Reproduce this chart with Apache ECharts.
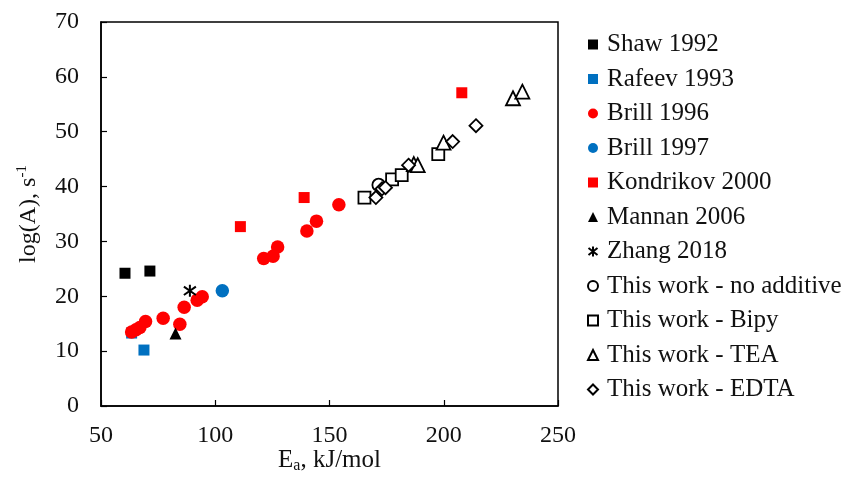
<!DOCTYPE html>
<html><head><meta charset="utf-8">
<script src="https://cdn.jsdelivr.net/npm/echarts@6/dist/echarts.min.js"></script>
<style>html,body{margin:0;padding:0;background:#fff}#c{width:854px;height:480px}</style>
</head><body><div id="c"></div>
<script>
// Data: [Ea (kJ/mol), log(A)]
const shaw1992 = [[60.5, 24.2], [71.4, 24.6]];
const rafeev1993 = [[63.4, 13.3], [68.8, 10.2]];
const brill1996 = [[63.4, 13.5], [65.3, 13.9], [67.0, 14.3], [69.5, 15.4], [77.2, 16.0], [84.5, 14.9], [86.4, 18.0], [92.1, 19.3], [94.3, 19.9], [121.2, 26.9], [125.3, 27.3], [127.3, 29.0], [140.1, 31.9], [144.3, 33.7], [154.1, 36.7]];
const brill1997 = [[103.1, 21.0]];
const kondrikov2000 = [[111.0, 32.7], [138.9, 38.0], [207.9, 57.1]];
const mannan2006 = [[82.6, 13.2]];
const zhang2018 = [[88.9, 21.0]];
const noAdditive = [[171.5, 40.3]];
const bipy = [[165.3, 38.0], [177.4, 41.3], [181.6, 42.1], [197.6, 45.9]];
const tea = [[186.9, 44.1], [188.6, 43.9], [199.9, 48.0], [230.3, 56.1], [234.4, 57.3]];
const edta = [[170.3, 38.0], [173.0, 39.6], [174.5, 39.8], [184.6, 43.9], [203.9, 48.2], [214.1, 51.1]];
const xTicks = [50, 100, 150, 200, 250];
const yTicks = [0, 10, 20, 30, 40, 50, 60, 70];

const FONT = 'Liberation Serif';
const asterisk = 'path://M0,-5L0,5M-4.5,-3.5L4.5,3.5M-4.5,3.5L4.5,-3.5';

function filled(name, data, symbol, color, size) {
  return { name, type: 'scatter', data, symbol, symbolSize: size,
    itemStyle: { color: color, opacity: 1 } };
}
function open(name, data, symbol, size) {
  return { name, type: 'scatter', data, symbol, symbolSize: size,
    itemStyle: { color: '#fff', borderColor: '#000', borderWidth: 1.8, opacity: 1 } };
}

const series = [
  filled('Shaw 1992', shaw1992, 'rect', '#000', 11),
  filled('Rafeev 1993', rafeev1993, 'rect', '#0070C0', 11),
  filled('Brill 1996', brill1996, 'circle', '#FF0000', 13.5),
  filled('Brill 1997', brill1997, 'circle', '#0070C0', 13.5),
  filled('Kondrikov 2000', kondrikov2000, 'rect', '#FF0000', 11),
  filled('Mannan 2006', mannan2006, 'triangle', '#000', 12),
  { name: 'Zhang 2018', type: 'scatter', data: zhang2018, symbol: asterisk, symbolSize: 12,
    itemStyle: { color: 'none', borderColor: '#000', borderWidth: 2, opacity: 1 } },
  open('This work - no additive', noAdditive, 'circle', 12.5),
  open('This work - Bipy', bipy, 'rect', 12),
  open('This work - TEA', tea, 'triangle', 14),
  open('This work - EDTA', edta, 'diamond', 13)
];

const chart = echarts.init(document.getElementById('c'), null, { renderer: 'canvas' });
chart.setOption({
  animation: false,
  backgroundColor: '#fff',
  textStyle: { fontFamily: FONT },
  grid: { left: 101, right: 296, top: 22, bottom: 74, show: true, borderColor: '#000', borderWidth: 1.5,
    backgroundColor: 'transparent', containLabel: false, outerBoundsMode: 'none' },
  legend: {
    orient: 'vertical', left: 586, top: 32, padding: 0, itemGap: 9.5, itemWidth: 10, itemHeight: 10,
    textStyle: { fontFamily: FONT, fontSize: 25, color: '#111', padding: [0, 0, 0, 4] },
    data: series.map(s => s.name)
  },
  xAxis: {
    type: 'value', min: xTicks[0], max: xTicks[xTicks.length - 1], interval: 50,
    splitLine: { show: false },
    axisLine: { lineStyle: { color: '#000', width: 1.5 } },
    axisTick: { inside: true, length: 6, lineStyle: { color: '#000', width: 1.2 } },
    axisLabel: { fontFamily: FONT, fontSize: 24, color: '#111', margin: 18 },
    name: '{a|E}{s|a}{a|, kJ/mol}', nameLocation: 'middle', nameGap: 40, nameMoveOverlap: false,
    nameTextStyle: { rich: {
      a: { fontFamily: FONT, fontSize: 25, color: '#111' },
      s: { fontFamily: FONT, fontSize: 16, color: '#111', padding: [12, 0, 0, 0] }
    } }
  },
  yAxis: {
    type: 'value', min: yTicks[0], max: yTicks[yTicks.length - 1], interval: 10,
    splitLine: { show: false },
    axisLine: { lineStyle: { color: '#000', width: 1.5 } },
    axisTick: { show: true, inside: true, length: 6, lineStyle: { color: '#000', width: 1.2 } },
    axisLabel: { fontFamily: FONT, fontSize: 24, color: '#111', margin: 22 },
    name: '{a|log(A), s}{s|-1}', nameLocation: 'middle', nameGap: 59, nameRotate: 90, nameMoveOverlap: false,
    nameTextStyle: { rich: {
      a: { fontFamily: FONT, fontSize: 24, color: '#111' },
      s: { fontFamily: FONT, fontSize: 15, color: '#111', padding: [0, 0, 12, 0] }
    } }
  },
  series: series
});
</script>
</body></html>
